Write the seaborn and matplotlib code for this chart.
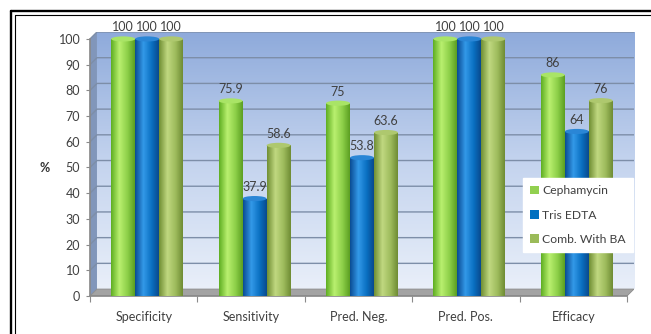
import numpy as np
import pandas as pd
import seaborn as sns
import matplotlib.pyplot as plt
from matplotlib.colors import LinearSegmentedColormap
from matplotlib.patches import Polygon, Ellipse
from matplotlib.lines import Line2D

# ---- data ----
categories = ["Specificity", "Sensitivity", "Pred. Neg.", "Pred. Pos.", "Efficacy"]
series = ["Cephamycin", "Tris EDTA", "Comb. With BA"]
cephamycin = [100, 75.9, 75, 100, 86]
tris_edta = [100, 37.9, 53.8, 100, 64]
comb_ba = [100, 58.6, 63.6, 100, 76]
y_ticks = list(range(0, 101, 10))

values = [cephamycin, tris_edta, comb_ba]
df = pd.DataFrame({
    "Measure": categories * len(series),
    "Method": [s for s in series for _ in categories],
    "Value": cephamycin + tris_edta + comb_ba,
})

# ---- styling ----
base_colors = ["#92d050", "#0070c0", "#9bbb59"]
shades = [
    ["#5fae22", "#b9f06f", "#8ccf48", "#5c9f22"],
    ["#0a4c94", "#3399e8", "#0a70c2", "#094a8e"],
    ["#718f34", "#c0d880", "#9dbb5c", "#6f8c34"],
]
cap_colors = ["#a9e466", "#2a86d6", "#aec86e"]
text_color = "#404040"

sns.set_theme(style="white")
plt.rcParams["font.family"] = ["Lato", "DejaVu Sans"]

W, H = 651, 334
fig = plt.figure(figsize=(W / 100, H / 100), dpi=100)
ax = fig.add_axes([90 / W, 1 - 296 / H, 544 / W, 264 / H])

depth_x, depth_y = 0.065, 2.7
x_lo, x_hi = -0.5, 4.5 + depth_x
y_top = 100 + depth_y

# back wall with vertical gradient
wall = LinearSegmentedColormap.from_list("wall", ["#e9eff9", "#c3d3ee", "#8eaadb"])
ax.imshow(np.linspace(0, 1, 256)[::-1, None], cmap=wall, aspect="auto",
          extent=(x_lo + depth_x, x_hi, depth_y, y_top), zorder=0)
# side wall
ax.add_patch(Polygon([(x_lo, 0), (x_lo + depth_x, depth_y), (x_lo + depth_x, y_top), (x_lo, 100)],
                     closed=True, facecolor="#8196ba", edgecolor="none", zorder=0.5))
# gridlines on the walls
for v in y_ticks[1:]:
    ax.plot([x_lo, x_lo + depth_x, x_hi], [v, v + depth_y, v + depth_y],
            color="#7d8ea8", lw=1.0, zorder=1)
# floor
ax.add_patch(Polygon([(x_lo, 0), (4.5, 0), (x_hi, depth_y), (x_lo + depth_x, depth_y)],
                     closed=True, facecolor="#a3a3a3", edgecolor="#8a8a8a", lw=0.6, zorder=1.5))

sns.barplot(data=df, x="Measure", y="Value", hue="Method", palette=base_colors,
            width=0.67, saturation=1, ax=ax, zorder=3, edgecolor="none")
handles, labels = ax.get_legend_handles_labels()
if ax.get_legend() is not None:
    ax.get_legend().remove()

# cylinder shading, caps and value labels (bars sit half-way into the depth)
shift = depth_x / 2
for i, cont in enumerate(ax.containers):
    cmap = LinearSegmentedColormap.from_list(f"cyl{i}", list(zip([0, 0.35, 0.7, 1], shades[i])))
    for j, bar in enumerate(cont):
        bar.set_x(bar.get_x() + shift)
        x0, w, h = bar.get_x(), bar.get_width(), bar.get_height()
        im = ax.imshow(np.linspace(0, 1, 64)[None, :], cmap=cmap, aspect="auto",
                       extent=(x0, x0 + w, 0, h), zorder=3.5)
        im.set_clip_path(bar)
        bar.set_facecolor("none")
        ax.add_patch(Ellipse((x0 + w / 2, h), w, 2.0, facecolor=cap_colors[i],
                             edgecolor="none", zorder=4))
        ax.text(x0 + w / 2, h + 2.2, f"{values[i][j]:g}", ha="center", va="bottom",
                fontsize=9, color=text_color, zorder=5)

ax.set_xlim(x_lo, x_hi)
ax.set_ylim(0, y_top)
ax.set_xlabel("")
ax.set_ylabel("")
ax.set_yticks(y_ticks)
ax.set_xticks(range(len(categories)))
ax.set_xticklabels(categories)
ax.set_xticks(np.arange(-0.5, len(categories), 1.0), minor=True)
ax.tick_params(axis="y", left=True, length=3, width=0.8, color="#8a8a8a",
               labelsize=9, labelcolor=text_color, pad=4)
ax.tick_params(axis="x", which="major", bottom=False, length=0, labelsize=9,
               labelcolor=text_color, pad=11)
ax.tick_params(axis="x", which="minor", bottom=True, length=4, width=0.8, color="#8a8a8a")
for side in ["top", "right"]:
    ax.spines[side].set_visible(False)
ax.spines["left"].set_bounds(0, 100)
ax.spines["left"].set_color("#8a8a8a")
ax.spines["bottom"].set_bounds(-0.5, 4.5)
ax.spines["bottom"].set_color("#8a8a8a")
ax.grid(False)

leg = ax.legend(handles, labels, loc="upper left", bbox_to_anchor=(0.796, 0.447),
                frameon=True, fancybox=False, framealpha=1, edgecolor="white",
                facecolor="white", fontsize=8.7, handlelength=0.7, handleheight=0.7,
                handletextpad=0.3, labelspacing=1.1, borderpad=0.6, borderaxespad=0)
for t in leg.get_texts():
    t.set_color(text_color)
leg.set_zorder(6)

fig.text(45 / W, 1 - 168 / H, "%", fontsize=9, fontweight="bold", color="#333333",
         ha="center", va="center")

# double frame around the figure
fig.add_artist(Line2D([11 / W, 11 / W], [0, 1 - 11 / H], lw=1.7, color="black"))
fig.add_artist(Line2D([11 / W, 1], [1 - 11 / H, 1 - 11 / H], lw=1.7, color="black"))
fig.add_artist(Line2D([14.5 / W, 14.5 / W], [0, 1 - 14.5 / H], lw=0.8, color="black"))
fig.add_artist(Line2D([14.5 / W, 1], [1 - 14.5 / H, 1 - 14.5 / H], lw=0.8, color="black"))

fig.savefig("out.png", dpi=100, facecolor="white")
